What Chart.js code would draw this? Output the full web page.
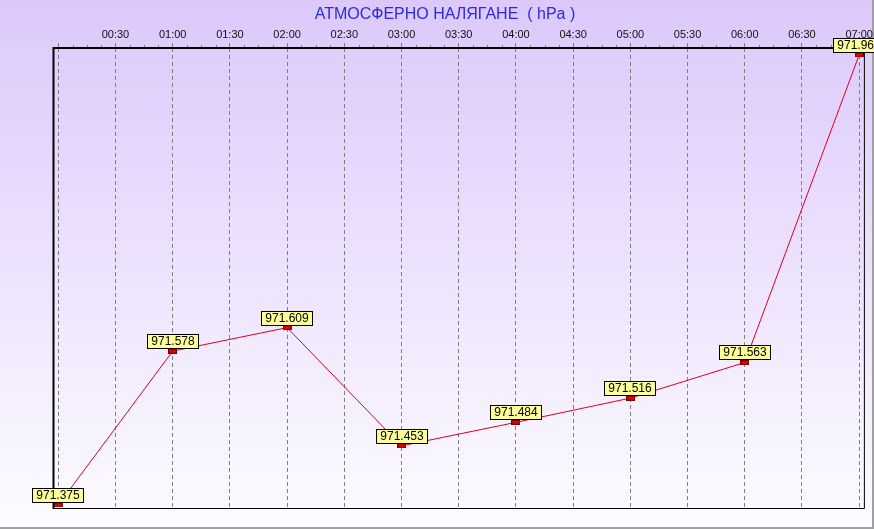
<!DOCTYPE html>
<html lang="bg">
  <head>
    <meta charset="UTF-8" />
    <script src="https://cdn.jsdelivr.net/npm/chart.js@4.4.0/dist/chart.umd.min.js"></script>
    <title>Атмосферно налягане</title>
    <style>
      body { margin: 0; background: #fff; }
    </style>
  </head>
  <body>
    <canvas id="chart" width="874" height="529"></canvas>
    <script>
      // readings, every hour
      const times = ["00:00", "01:00", "02:00", "03:00", "04:00", "05:00", "06:00", "07:00"];
      const pressure = [971.375, 971.578, 971.609, 971.453, 971.484, 971.516, 971.563, 971.969];

      // top axis: a dashed line every half hour
      const tickHours = [0, 0.5, 1, 1.5, 2, 2.5, 3, 3.5, 4, 4.5, 5, 5.5, 6, 6.5, 7];
      const tickLabels = ["", "00:30", "01:00", "01:30", "02:00", "02:30", "03:00", "03:30",
        "04:00", "04:30", "05:00", "05:30", "06:00", "06:30", "07:00"];
      const minorStep = 0.125;

      const title = "АТМОСФЕРНО НАЛЯГАНЕ  ( hPa )";

      const toHours = (t) => {
        const [h, m] = t.split(":").map(Number);
        return h + m / 60;
      };

      const FONT = "'Liberation Sans', Arial, sans-serif";

      // marker: small red rectangle
      const marker = document.createElement("canvas");
      marker.width = 9;
      marker.height = 5;
      const mctx = marker.getContext("2d");
      mctx.fillStyle = "#e00000";
      mctx.fillRect(0, 0, 9, 5);
      mctx.strokeStyle = "#7a0000";
      mctx.strokeRect(0.5, 0.5, 8, 4);

      const background = {
        id: "background",
        beforeDraw(chart) {
          const { ctx, width, height } = chart;
          const g = ctx.createLinearGradient(0, 0, 0, height);
          g.addColorStop(0, "#dcc8fb");
          g.addColorStop(1, "#fdfcff");
          ctx.save();
          ctx.fillStyle = g;
          ctx.fillRect(0, 0, width, height);
          ctx.fillStyle = "#a0a0a0";
          ctx.fillRect(width - 2, 0, 2, height);
          ctx.fillRect(0, height - 2, width, 2);
          // title, centred on the window rather than the plot
          ctx.fillStyle = "#2b2bdc";
          ctx.font = "16px " + FONT;
          ctx.textAlign = "center";
          ctx.textBaseline = "middle";
          ctx.fillText(title, width / 2 + 8, 15);
          ctx.restore();
        },
      };

      const frame = {
        id: "frame",
        afterDraw(chart) {
          const { ctx, chartArea: a } = chart;
          const x = chart.scales.x;
          ctx.save();
          // minor ticks on the top edge
          ctx.strokeStyle = "#808080";
          ctx.lineWidth = 1;
          for (let v = 0; v <= 7; v += minorStep) {
            if (tickHours.includes(v)) continue;
            const px = Math.round(x.getPixelForValue(v)) + 0.5;
            ctx.beginPath();
            ctx.moveTo(px, a.top - 3);
            ctx.lineTo(px, a.top);
            ctx.stroke();
          }
          ctx.strokeStyle = "#000";
          ctx.lineWidth = 1;
          ctx.beginPath();
          ctx.moveTo(a.left, a.bottom + 0.5);
          ctx.lineTo(a.right + 0.5, a.bottom + 0.5);
          ctx.lineTo(a.right + 0.5, a.top);
          ctx.stroke();
          ctx.lineWidth = 2;
          ctx.beginPath();
          ctx.moveTo(a.left + 0.5, a.bottom + 1);
          ctx.lineTo(a.left + 0.5, a.top);
          ctx.lineTo(a.right + 1, a.top);
          ctx.stroke();
          ctx.restore();
        },
      };

      // yellow value boxes above each point
      const valueBoxes = {
        id: "valueBoxes",
        afterDraw(chart) {
          const { ctx } = chart;
          const meta = chart.getDatasetMeta(0);
          ctx.save();
          ctx.font = "12px " + FONT;
          ctx.textAlign = "center";
          ctx.textBaseline = "middle";
          meta.data.forEach((pt, i) => {
            const txt = pressure[i].toFixed(3);
            const w = Math.round(ctx.measureText(txt).width) + 9;
            const h = 15;
            const left = Math.round(pt.x - w / 2);
            const bottom = Math.round(pt.y - 2);
            ctx.fillStyle = "#ffff99";
            ctx.fillRect(left, bottom - h, w, h);
            ctx.strokeStyle = "#000";
            ctx.lineWidth = 1;
            ctx.strokeRect(left + 0.5, bottom - h + 0.5, w - 1, h - 1);
            ctx.fillStyle = "#000";
            ctx.fillText(txt, left + w / 2, bottom - h / 2 + 0.5);
          });
          ctx.restore();
        },
      };

      const ctx = document.getElementById("chart").getContext("2d");
      new Chart(ctx, {
        type: "line",
        data: {
          datasets: [
            {
              data: times.map((t, i) => ({ x: toHours(t), y: pressure[i] })),
              borderColor: "#e00020",
              borderWidth: 1,
              pointStyle: marker,
              pointRadius: 4,
              pointHoverRadius: 4,
              tension: 0,
              clip: false,
            },
          ],
        },
        options: {
          responsive: false,
          animation: false,
          layout: { padding: { left: 53, right: 9, bottom: 21, top: 0 } },
          plugins: {
            legend: { display: false },
            tooltip: { enabled: false },
          },
          scales: {
            x: {
              type: "linear",
              position: "top",
              min: -0.046,
              max: 7.041,
              afterBuildTicks: (s) => {
                s.ticks = tickHours.map((v) => ({ value: v }));
              },
              afterFit: (s) => {
                s.height = 48;
              },
              ticks: {
                callback: (v, i) => tickLabels[i],
                font: { family: FONT, size: 11 },
                color: "#101010",
                padding: 1,
                maxRotation: 0,
                autoSkip: false,
              },
              grid: {
                color: "#808080",
                lineWidth: 1,
                tickLength: 5,
                tickColor: "#808080",
              },
              border: { display: false, dash: [4, 3] },
            },
            y: {
              display: false,
              min: 971.371,
              max: 971.978,
            },
          },
        },
        plugins: [background, frame, valueBoxes],
      });
    </script>
  </body>
</html>
